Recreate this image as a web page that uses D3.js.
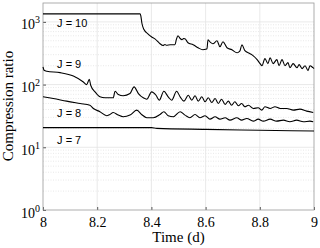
<!DOCTYPE html>
<html>
<head>
<meta charset="utf-8">
<script src="https://cdn.jsdelivr.net/npm/d3@7"></script>
<style>
  body { margin: 0; background: #fff; }
  svg { display: block; }
</style>
</head>
<body>
<svg id="chart" width="320" height="248"></svg>
<script>
// values (time in days, compression ratio)
const j10Time = [8.000, 8.358, 8.361, 8.365, 8.372, 8.387, 8.400, 8.413, 8.425, 8.432, 8.443, 8.450, 8.455, 8.470, 8.487, 8.492, 8.498, 8.505, 8.513, 8.518, 8.524, 8.535, 8.554, 8.572, 8.590, 8.600, 8.605, 8.609, 8.618, 8.627, 8.642, 8.653, 8.664, 8.679, 8.697, 8.716, 8.722, 8.727, 8.734, 8.745, 8.764, 8.775, 8.790, 8.801, 8.808, 8.819, 8.830, 8.838, 8.849, 8.863, 8.871, 8.882, 8.893, 8.904, 8.911, 8.923, 8.937, 8.945, 8.956, 8.967, 8.978, 8.985, 8.996, 9.000];
const j10Ratio = [1340, 1340, 1250, 950, 760, 645, 580, 537, 480, 448, 420, 435, 425, 432, 432, 520, 600, 550, 518, 540, 537, 464, 432, 387, 359, 365, 373, 518, 470, 448, 499, 401, 482, 387, 359, 322, 330, 347, 432, 347, 311, 289, 250, 216, 200, 259, 216, 268, 216, 250, 200, 250, 200, 224, 186, 216, 186, 208, 180, 200, 167, 200, 186, 180];

const j9Time = [8.000, 8.004, 8.014, 8.063, 8.112, 8.149, 8.161, 8.171, 8.176, 8.192, 8.210, 8.229, 8.259, 8.266, 8.278, 8.296, 8.321, 8.336, 8.352, 8.370, 8.383, 8.401, 8.417, 8.429, 8.446, 8.462, 8.475, 8.493, 8.506, 8.520, 8.536, 8.549, 8.561, 8.573, 8.586, 8.598, 8.610, 8.623, 8.635, 8.647, 8.659, 8.672, 8.684, 8.696, 8.708, 8.721, 8.733, 8.745, 8.758, 8.776, 8.794, 8.807, 8.819, 8.838, 8.856, 8.875, 8.899, 8.924, 8.948, 8.973, 8.997];
const j9Ratio = [191, 169, 163, 155, 137, 110, 100, 121, 97.5, 76.6, 63.8, 61.5, 61.5, 78.3, 69.3, 66.2, 71.9, 91.9, 71.9, 61.5, 58.5, 76.6, 67.6, 56.4, 78.3, 63.8, 56.4, 78.3, 63.8, 54.4, 67.6, 56.4, 66.2, 54.4, 63.8, 53.1, 61.5, 51.8, 60, 49.9, 58.5, 48.2, 54.4, 46.9, 53.1, 45.9, 49.9, 44.3, 46.9, 41.6, 42.7, 39.1, 44.3, 41.6, 44.3, 41.6, 41.6, 39.1, 40.6, 37.7, 35.9];

const j8Time = [8.000, 8.038, 8.087, 8.137, 8.173, 8.186, 8.210, 8.235, 8.247, 8.259, 8.278, 8.296, 8.321, 8.346, 8.364, 8.383, 8.407, 8.432, 8.446, 8.462, 8.481, 8.506, 8.524, 8.542, 8.561, 8.579, 8.598, 8.616, 8.635, 8.653, 8.672, 8.690, 8.715, 8.733, 8.752, 8.776, 8.794, 8.813, 8.838, 8.862, 8.887, 8.911, 8.936, 8.961, 8.985, 8.997];
const j8Ratio = [63.8, 60, 54.4, 49.9, 46.9, 41.6, 36.9, 31.9, 33.4, 35.9, 32.6, 30.7, 32.6, 39.1, 33.4, 29.6, 29.6, 33.4, 36.9, 31.9, 30.7, 36.9, 32.6, 29.6, 33.4, 29.6, 31.9, 28.1, 30.7, 28.1, 29.6, 27.1, 29.6, 27.1, 28.8, 26.1, 28.1, 26.1, 28.1, 26.1, 27.1, 25.6, 27.1, 25.6, 26.1, 25.6];

const j7Time = [8.000, 8.400, 8.420, 8.600, 8.800, 9.000];
const j7Ratio = [20.6, 20.6, 20.0, 19.3, 18.7, 18.2];

const seriesNames = ['J = 10', 'J = 9', 'J = 8', 'J = 7'];
const labelAt = [[8.052, 828], [8.052, 184], [8.052, 30.4], [8.052, 11.3]]; // label baseline (t, ratio)

const xTicks = [8, 8.2, 8.4, 8.6, 8.8, 9];
const yDecades = [0, 1, 2, 3];

const serif = '"Liberation Serif", "DejaVu Serif", "Times New Roman", serif';

const margin = { top: 3, right: 6, bottom: 38, left: 43 };
const width = 320 - margin.left - margin.right;
const height = 248 - margin.top - margin.bottom;

const svg = d3.select('#chart');
const g = svg.append('g').attr('transform', `translate(${margin.left},${margin.top})`);

const x = d3.scaleLinear().domain([8, 9]).range([0, width]);
const y = d3.scaleLog().domain([1, 2000]).range([height, 0]);

// minor grid (dotted)
const minors = [];
yDecades.forEach((d) => {
  for (let k = 2; k <= 9; k++) {
    const v = k * Math.pow(10, d);
    if (v < 2000) minors.push(v);
  }
});
g.append('g')
  .selectAll('line')
  .data(minors)
  .enter()
  .append('line')
  .attr('x1', 0)
  .attr('x2', width)
  .attr('y1', (d) => y(d))
  .attr('y2', (d) => y(d))
  .attr('stroke', '#dadada')
  .attr('stroke-width', 0.6)
  .attr('stroke-dasharray', '1,1.5');

// major grid
g.append('g')
  .selectAll('line')
  .data(yDecades.slice(1))
  .enter()
  .append('line')
  .attr('x1', 0)
  .attr('x2', width)
  .attr('y1', (d) => y(Math.pow(10, d)))
  .attr('y2', (d) => y(Math.pow(10, d)))
  .attr('stroke', '#e3e3e3')
  .attr('stroke-width', 0.8);

g.append('g')
  .selectAll('line')
  .data(xTicks.slice(1, -1))
  .enter()
  .append('line')
  .attr('x1', (d) => x(d))
  .attr('x2', (d) => x(d))
  .attr('y1', 0)
  .attr('y2', height)
  .attr('stroke', '#e3e3e3')
  .attr('stroke-width', 0.8);

// x axis
const xAxis = g
  .append('g')
  .attr('transform', `translate(0,${height})`)
  .call(d3.axisBottom(x).tickValues(xTicks).tickFormat(d3.format('')).tickSizeInner(-3).tickSizeOuter(0).tickPadding(7));
xAxis.attr('font-family', null);
xAxis.select('.domain').remove();
xAxis.selectAll('line').attr('stroke', '#555');
xAxis
  .selectAll('text')
  .attr('fill', '#000')
  .style('font-family', serif)
  .style('font-size', '14px');

// y axis, labels as 10^n
const yAxis = g
  .append('g')
  .call(d3.axisLeft(y).tickValues(yDecades.map((d) => Math.pow(10, d))).tickFormat('').tickSizeInner(-3).tickSizeOuter(0));
yAxis.attr('font-family', null);
yAxis.select('.domain').remove();
yAxis.selectAll('line').attr('stroke', '#555');
yAxis
  .selectAll('.tick')
  .append('text')
  .attr('x', -3)
  .attr('y', 7)
  .attr('text-anchor', 'end')
  .attr('fill', '#000')
  .style('font-family', serif)
  .style('font-size', '14px')
  .each(function (d) {
    const t = d3.select(this);
    t.append('tspan').text('10');
    t.append('tspan').attr('dy', -6).style('font-size', '10px').text(Math.round(Math.log10(d)));
  });

// box
g.append('rect')
  .attr('width', width)
  .attr('height', height)
  .attr('fill', 'none')
  .attr('stroke', '#9a9a9a')
  .attr('stroke-width', 0.8);

// curves
const series = [
  [j10Time, j10Ratio],
  [j9Time, j9Ratio],
  [j8Time, j8Ratio],
  [j7Time, j7Ratio],
];
const line = d3
  .line()
  .curve(d3.curveMonotoneX)
  .x((d) => x(d[0]))
  .y((d) => y(d[1]));

series.forEach(([ts, vs]) => {
  g.append('path')
    .datum(ts.map((t, i) => [t, vs[i]]))
    .attr('d', line)
    .attr('fill', 'none')
    .attr('stroke', '#000')
    .attr('stroke-width', 1.1)
    .attr('stroke-linejoin', 'round');
});

// series labels
g.append('g')
  .selectAll('text')
  .data(seriesNames)
  .enter()
  .append('text')
  .attr('x', (d, i) => x(labelAt[i][0]))
  .attr('y', (d, i) => y(labelAt[i][1]))
  .attr('fill', '#000')
  .style('font-family', '"Liberation Sans", Arial, sans-serif')
  .style('font-size', '11px')
  .text((d) => d);

// axis titles
svg
  .append('text')
  .attr('x', margin.left + width / 2)
  .attr('y', 242)
  .attr('text-anchor', 'middle')
  .style('font-family', serif)
  .style('font-size', '15px')
  .text('Time (d)');

svg
  .append('text')
  .attr('transform', 'translate(13,106) rotate(-90)')
  .attr('text-anchor', 'middle')
  .style('font-family', serif)
  .style('font-size', '15px')
  .text('Compression ratio');
</script>
</body>
</html>
